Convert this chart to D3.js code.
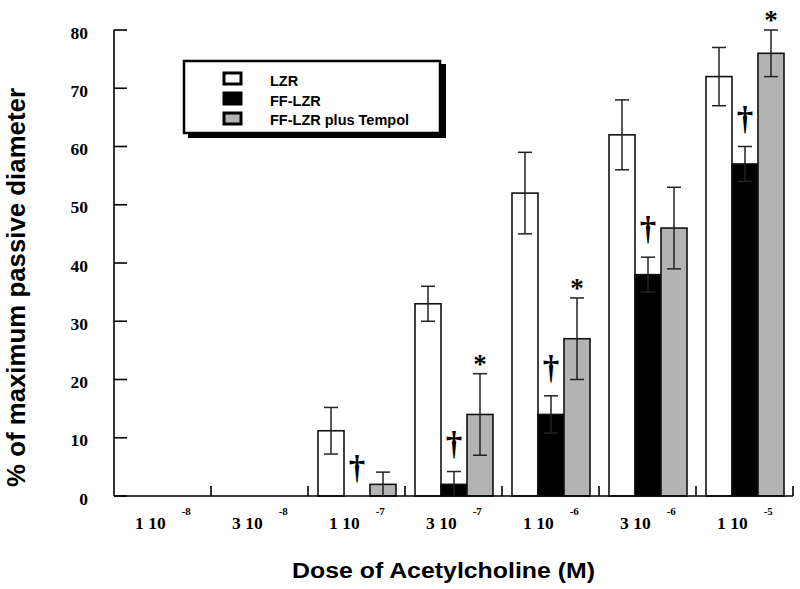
<!DOCTYPE html>
<html>
<head>
<meta charset="utf-8">
<script src="https://cdn.jsdelivr.net/npm/d3@7"></script>
<style>
  body { margin: 0; background: #fff; }
  svg { display: block; }
</style>
</head>
<body>
<svg width="800" height="589"></svg>
<script>
// dose categories (mantissa + exponent)
var doses = ['1e-8', '3e-8', '1e-7', '3e-7', '1e-6', '3e-6', '1e-5'];
var doseMant = ['1', '3', '1', '3', '1', '3', '1'];
var doseExp = ['-8', '-8', '-7', '-7', '-6', '-6', '-5'];

var groups = ['LZR', 'FF-LZR', 'FF-LZR plus Tempol'];
var groupColors = ['#ffffff', '#000000', '#b3b3b3'];

// means and SE per group, one value per dose
var lzr = [0, 0, 11.2, 33, 52, 62, 72];
var lzrErr = [0, 0, 4, 3, 7, 6, 5];
var ff = [0, 0, 0, 2, 14, 38, 57];
var ffErr = [0, 0, 0, 2.2, 3.2, 3, 3];
var tempol = [0, 0, 2, 14, 27, 46, 76];
var tempolErr = [0, 0, 2.1, 7, 7, 7, 4];

// significance marks: dagger over FF-LZR, asterisk over Tempol
var daggerAt = [false, false, true, true, true, true, true];
var starAt = [false, false, false, true, true, false, true];

var yTicks = [0, 10, 20, 30, 40, 50, 60, 70, 80];

var svg = d3.select('svg');
var pLeft = 114, pRight = 793, pTop = 30, pBottom = 496;

var x = d3.scaleBand().domain(doses).range([pLeft, pRight]).paddingInner(0).paddingOuter(0);
var xs = d3.scaleBand().domain(groups).range([10, x.bandwidth() - 9]).padding(0);
var y = d3.scaleLinear().domain([0, 80]).range([pBottom, pTop]);

var serif = 'Liberation Serif, Times New Roman, serif';
var sans = 'Liberation Sans, Arial, sans-serif';

// rows of data
var rows = doses.map(function (d, i) {
  return [
    { dose: d, g: groups[0], v: lzr[i], e: lzrErr[i], c: groupColors[0] },
    { dose: d, g: groups[1], v: ff[i], e: ffErr[i], c: groupColors[1] },
    { dose: d, g: groups[2], v: tempol[i], e: tempolErr[i], c: groupColors[2] }
  ];
});
var flat = d3.merge(rows).filter(function (d) { return d.v > 0; });

// bars
svg.append('g').selectAll('rect')
  .data(flat)
  .enter()
  .append('rect')
  .attr('x', function (d) { return x(d.dose) + xs(d.g); })
  .attr('y', function (d) { return y(d.v); })
  .attr('width', xs.bandwidth())
  .attr('height', function (d) { return y(0) - y(d.v); })
  .attr('fill', function (d) { return d.c; })
  .attr('stroke', '#111')
  .attr('stroke-width', 1.6);

// error bars
var eb = svg.append('g').attr('stroke', '#222').attr('stroke-width', 1.5);
flat.forEach(function (d) {
  var cx = x(d.dose) + xs(d.g) + xs.bandwidth() / 2;
  var lo = Math.max(0, d.v - d.e), hi = d.v + d.e;
  eb.append('line').attr('x1', cx).attr('x2', cx).attr('y1', y(lo)).attr('y2', y(hi));
  eb.append('line').attr('x1', cx - 7).attr('x2', cx + 7).attr('y1', y(hi)).attr('y2', y(hi));
  if (d.v - d.e > 0.5) {
    eb.append('line').attr('x1', cx - 7).attr('x2', cx + 7).attr('y1', y(lo)).attr('y2', y(lo));
  }
});

// significance marks
doses.forEach(function (d, i) {
  if (daggerAt[i]) {
    var cx = x(d) + xs(groups[1]) + xs.bandwidth() / 2;
    var topv = ff[i] + ffErr[i];
    svg.append('text')
      .attr('x', cx).attr('y', y(topv) - 17)
      .attr('text-anchor', 'middle')
      .style('font-family', serif).style('font-weight', 'bold').style('font-size', '33px')
      .text('\u2020');
  }
  if (starAt[i]) {
    var sx = x(d) + xs(groups[2]) + xs.bandwidth() / 2;
    var sv = tempol[i] + tempolErr[i];
    svg.append('text')
      .attr('x', sx).attr('y', y(sv) - 1)
      .attr('text-anchor', 'middle')
      .style('font-family', serif).style('font-weight', 'bold').style('font-size', '27px')
      .text('*');
  }
});

// y axis
svg.append('line').attr('x1', pLeft).attr('x2', pLeft).attr('y1', pTop).attr('y2', pBottom)
  .attr('stroke', '#000').attr('stroke-width', 1.6);
svg.append('g').selectAll('line')
  .data(yTicks).enter().append('line')
  .attr('x1', pLeft).attr('x2', pLeft + 13)
  .attr('y1', function (d) { return y(d); }).attr('y2', function (d) { return y(d); })
  .attr('stroke', '#000').attr('stroke-width', 1.6);
svg.append('g').selectAll('text')
  .data(yTicks).enter().append('text')
  .attr('x', 88).attr('y', function (d) { return y(d) + 8.5; })
  .attr('text-anchor', 'end')
  .style('font-family', serif).style('font-weight', 'bold').style('font-size', '17.5px')
  .text(function (d) { return d; });

// x axis
svg.append('line').attr('x1', pLeft).attr('x2', pRight).attr('y1', pBottom).attr('y2', pBottom)
  .attr('stroke', '#000').attr('stroke-width', 1.6);
svg.append('g').selectAll('line')
  .data(doses.slice(1)).enter().append('line')
  .attr('x1', function (d) { return x(d); }).attr('x2', function (d) { return x(d); })
  .attr('y1', pBottom).attr('y2', pBottom - 10)
  .attr('stroke', '#000').attr('stroke-width', 1.6);
svg.append('line').attr('x1', pRight).attr('x2', pRight).attr('y1', pBottom).attr('y2', pBottom - 10)
  .attr('stroke', '#000').attr('stroke-width', 1.6);

var xl = svg.append('g').selectAll('text')
  .data(doses).enter().append('text')
  .attr('x', function (d) { return x(d) + x.bandwidth() / 2 - 27.5; })
  .attr('y', 529)
  .style('font-family', serif).style('font-weight', 'bold').style('font-size', '17.5px');
xl.append('tspan').text(function (d, i) { return doseMant[i] + ' 10'; });
xl.append('tspan')
  .attr('dx', 16).attr('dy', -14)
  .style('font-size', '11px')
  .text(function (d, i) { return doseExp[i]; });

// axis titles
svg.append('text')
  .attr('x', 292).attr('y', 578)
  .attr('textLength', 303).attr('lengthAdjust', 'spacingAndGlyphs')
  .style('font-family', sans).style('font-weight', 'bold').style('font-size', '22px')
  .text('Dose of Acetylcholine (M)');
svg.append('text')
  .attr('transform', 'translate(25,487) rotate(-90)')
  .attr('textLength', 399).attr('lengthAdjust', 'spacingAndGlyphs')
  .style('font-family', sans).style('font-weight', 'bold').style('font-size', '25px')
  .text('% of maximum passive diameter');

// legend
var lg = svg.append('g');
lg.append('rect').attr('x', 188).attr('y', 64).attr('width', 258).attr('height', 74).attr('fill', '#000');
lg.append('rect').attr('x', 184).attr('y', 61).attr('width', 256).attr('height', 72)
  .attr('fill', '#fff').attr('stroke', '#000').attr('stroke-width', 2.5);
groups.forEach(function (g, i) {
  lg.append('rect')
    .attr('x', 224).attr('y', 73 + i * 20).attr('width', 17).attr('height', 11)
    .attr('fill', groupColors[i]).attr('stroke', '#000').attr('stroke-width', 3);
  lg.append('text')
    .attr('x', 270).attr('y', 86 + i * 19.5)
    .style('font-family', sans).style('font-weight', 'bold').style('font-size', '14.5px')
    .text(g);
});
</script>
</body>
</html>
